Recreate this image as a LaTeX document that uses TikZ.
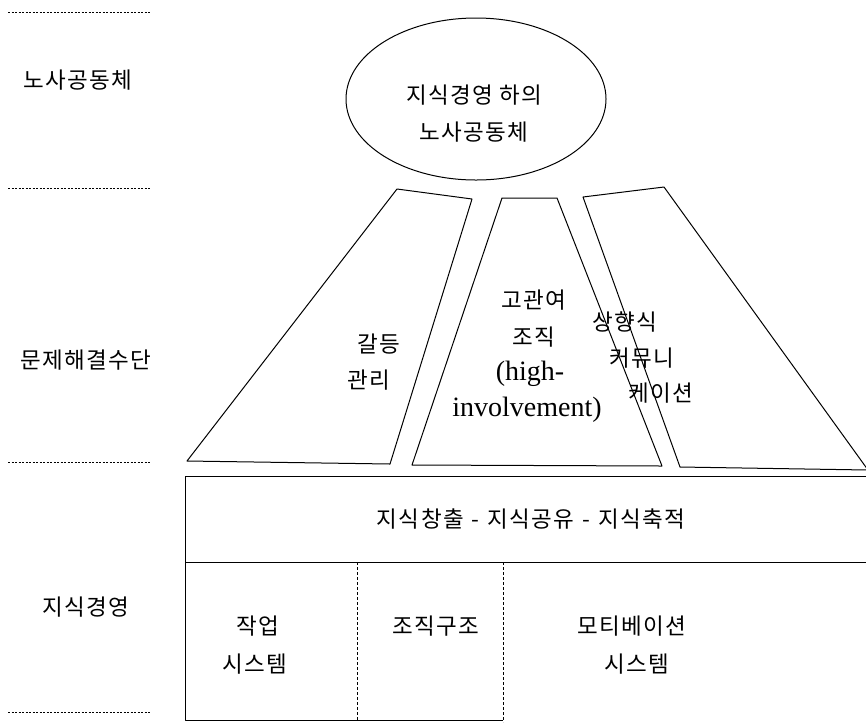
\documentclass[tikz,border=0pt]{standalone}
\usepackage{fontspec}
\setmainfont{Liberation Serif}
\newfontfamily\kr[LetterSpace=6]{Noto Sans CJK KR}
\usetikzlibrary{shapes.geometric}
\begin{document}
\begin{tikzpicture}[x=1pt,y=-1pt,
  shp/.style={draw=black,line width=1pt,line join=round},
  sep/.style={draw=black,line width=0.8pt,dash pattern=on 2pt off 1.5pt},
  vsep/.style={draw=black,line width=0.7pt,dash pattern=on 3pt off 2pt},
  lbl/.style={font=\kr\fontsize{22.5}{37}\selectfont,inner sep=0pt,align=center},
  lat/.style={font=\fontsize{28}{37}\selectfont,inner sep=0pt}]
\useasboundingbox (0,0) rectangle (866,724);
% left separators
\coordinate (s1a) at (8,12);   \coordinate (s1b) at (150,12);
\coordinate (s2a) at (8,188);  \coordinate (s2b) at (150,188);
\coordinate (s3a) at (8,462);  \coordinate (s3b) at (150,462);
\coordinate (s4a) at (8,712);  \coordinate (s4b) at (150,712);
\draw[sep] (s1a) -- (s1b);
\draw[sep] (s2a) -- (s2b);
\draw[sep] (s3a) -- (s3b);
\draw[sep] (s4a) -- (s4b);
% left labels
\node[lbl] (L1) at (78,80) {노사공동체};
\node[lbl] (L2) at (86,360) {문제해결수단};
\node[lbl] (L3) at (86,607) {지식경영};
% ellipse
\node[shp,ellipse,minimum width=260pt,minimum height=162pt,inner sep=0pt] (E) at (476,99) {};
\node[lbl] (E1) at (474,95) {지식경영 하의};
\node[lbl] (E2) at (474,132) {노사공동체};
% left trapezoid
\coordinate (A1) at (397,189); \coordinate (A2) at (472,199);
\coordinate (A3) at (390,464); \coordinate (A4) at (187,461);
\draw[shp] (A1) -- (A2) -- (A3) -- (A4) -- cycle;
\node[lbl] (T1) at (379,344) {갈등};
\node[lbl] (T2) at (369,380) {관리};
% middle trapezoid
\coordinate (B1) at (502,198); \coordinate (B2) at (557,198);
\coordinate (B3) at (662,466); \coordinate (B4) at (412,465);
\draw[shp] (B1) -- (B2) -- (B3) -- (B4) -- cycle;
\node[lbl] (M1) at (534,300) {고관여};
\node[lbl] (M2) at (534,337) {조직};
\node[lat] (M3) at (530,374) {(high-};
\node[lat] (M4) at (527,410) {involvement)};
% right trapezoid
\coordinate (C1) at (583,197); \coordinate (C2) at (664,187);
\coordinate (C3) at (868,470); \coordinate (C4) at (680,467);
\draw[shp] (C1) -- (C2) -- (C3) -- (C4) -- cycle;
\node[lbl] (R1) at (625,322) {상향식};
\node[lbl] (R2) at (642,358) {커뮤니};
\node[lbl] (R3) at (661,393) {케이션};
% bottom box
\coordinate (D1) at (185,476); \coordinate (D2) at (868,476);
\coordinate (D3) at (185,562); \coordinate (D4) at (868,562);
\coordinate (D5) at (185,720); \coordinate (D6) at (503,720);
\draw[shp] (D2) -- (D1) -- (D5) -- (D6);
\draw[shp] (D3) -- (D4);
\coordinate (V1a) at (357,562); \coordinate (V1b) at (357,720);
\coordinate (V2a) at (503,562); \coordinate (V2b) at (503,722);
\draw[vsep] (V1a) -- (V1b);
\draw[vsep] (V2a) -- (V2b);
\node[lbl] (K) at (531,519) {지식창출\hspace{8pt}-\hspace{8pt}지식공유\hspace{8pt}-\hspace{8pt}지식축적};
\node[lbl] (W1) at (258,626) {작업};
\node[lbl] (W2) at (255,664) {시스템};
\node[lbl] (O) at (436,626) {조직구조};
\node[lbl] (P1) at (632,626) {모티베이션};
\node[lbl] (P2) at (637,664) {시스템};
\end{tikzpicture}
\end{document}
